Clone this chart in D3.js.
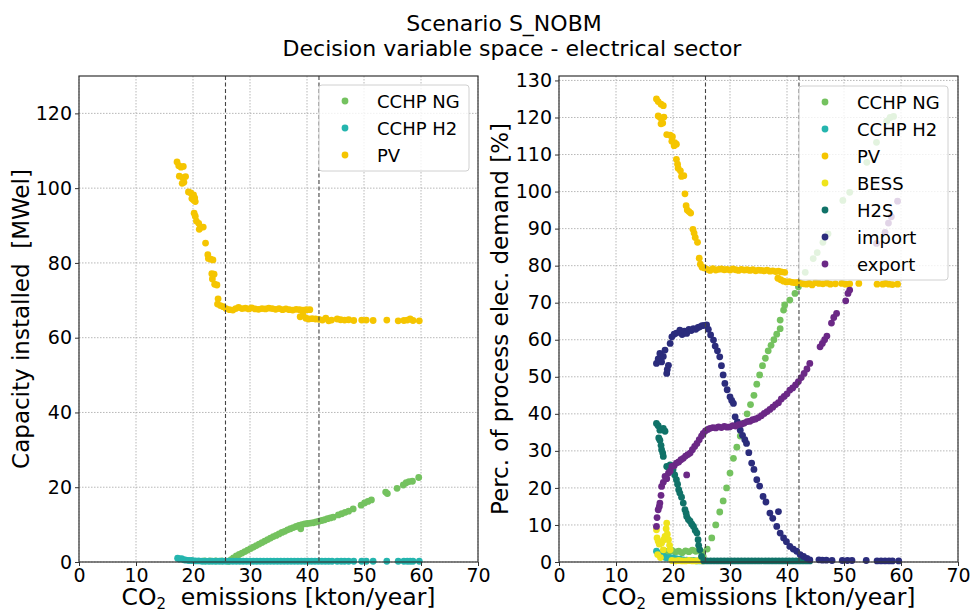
<!DOCTYPE html>
<html>
<head>
<meta charset="utf-8">
<script src="https://cdn.jsdelivr.net/npm/d3@7"></script>
<style>
  body { margin: 0; background: #fff; }
  text { font-family: "DejaVu Sans", sans-serif; fill: #000; }
</style>
</head>
<body>
<svg id="chart" width="971" height="611"></svg>
<script>
// x ticks + the two dashed reference lines (kton/year)
let xTicks = [0, 10, 20, 30, 40, 50, 60, 70];
let vLines = [25.7, 42.1];
let leftYTicks = [0, 20, 40, 60, 80, 100, 120];
let rightYTicks = [0, 10, 20, 30, 40, 50, 60, 70, 80, 90, 100, 110, 120, 130];

// left panel: capacity installed [MWel]
let capNG = [[22.0,0.3],[23.0,0.3],[24.0,0.3],[25.0,0.3],[26.2,0.2],[26.7,0.6],[27.1,1.1],[27.6,1.6],[28.1,2.0],[28.6,2.4],[29.1,2.8],[29.6,3.2],[30.1,3.6],[30.6,4.0],[31.1,4.4],[31.6,4.8],[32.1,5.2],[32.6,5.6],[33.1,6.0],[33.6,6.4],[34.1,6.8],[34.6,7.1],[35.1,7.5],[35.6,7.9],[36.1,8.2],[36.6,8.6],[37.1,8.9],[37.6,9.2],[38.1,9.5],[38.6,9.8],[39.1,10.0],[39.6,10.2],[38.9,8.9],[40.1,10.3],[40.6,10.4],[41.1,10.5],[41.6,10.7],[42.1,10.9],[42.6,11.1],[43.1,11.3],[43.6,11.6],[44.1,11.8],[44.6,12.0],[45.5,12.6],[46.1,12.9],[46.7,13.3],[47.3,13.6],[48.1,14.2],[49.5,15.2],[50.1,15.8],[50.7,16.2],[51.3,16.6],[53.8,18.7],[54.1,18.3],[55.8,19.7],[56.9,20.6],[57.4,21.2],[57.9,21.5],[58.5,21.6],[59.6,22.6]];
let capH2 = [[17.3,1.0],[17.6,0.8],[18.0,0.9],[18.4,0.6],[18.8,0.5],[19.3,0.4],[19.8,0.4],[20.4,0.3],[21.0,0.3],[21.6,0.2],[22.2,0.2],[22.8,0.2],[23.4,0.2],[24.0,0.2],[24.6,0.2],[25.2,0.2],[25.8,0.2],[26.4,0.2],[27.0,0.2],[27.6,0.2],[28.2,0.2],[28.8,0.2],[29.4,0.2],[30.0,0.2],[30.6,0.2],[31.2,0.2],[31.8,0.2],[32.4,0.2],[33.0,0.2],[33.6,0.2],[34.2,0.2],[34.8,0.2],[35.4,0.2],[36.0,0.2],[36.6,0.2],[37.2,0.2],[37.8,0.2],[38.4,0.2],[39.0,0.2],[39.6,0.2],[40.2,0.2],[40.8,0.2],[41.4,0.2],[42.0,0.2],[42.6,0.2],[43.2,0.2],[43.8,0.2],[44.4,0.2],[45.3,0.2],[46.0,0.2],[46.6,0.2],[47.3,0.2],[48.2,0.2],[49.6,0.2],[50.4,0.2],[51.6,0.2],[54.0,0.2],[56.0,0.2],[57.0,0.2],[57.6,0.2],[58.1,0.2],[58.6,0.2],[59.7,0.2]];
let capPV = [[17.2,107],[17.5,106],[17.9,105.6],[18.3,105.8],[17.6,103.2],[18.2,102.8],[18.7,103.1],[18.1,101.3],[18.4,101.6],[19.2,99],[19.6,98.7],[20.1,98.2],[20.3,97.4],[19.8,97.2],[20.4,96.4],[20.1,96.8],[20.2,93.3],[20.4,92.5],[20.6,91.2],[21,90.6],[21.3,89.5],[21.1,89],[21.8,89.6],[22.2,85.3],[22.6,82.2],[22.7,81.2],[23.1,81],[23.5,80.8],[23.3,77.1],[23.7,77],[23.4,75.7],[23.8,74.3],[24.2,74.1],[24.4,70.4],[24.3,69],[24.8,68.6],[25.3,68.3],[25.8,67.8],[26.4,67.5],[27,67.4],[27.5,67.8],[28,68.1],[28.6,67.8],[29.2,67.9],[29.8,67.7],[30.3,68],[30.9,67.7],[31.5,67.6],[32.1,67.8],[32.7,67.7],[33.3,67.9],[33.9,67.8],[34.5,67.6],[35.1,67.8],[35.7,67.5],[36.3,67.7],[36.9,67.5],[37.5,67.4],[38.1,67.6],[38.7,67.5],[39.3,67.4],[39.9,67.5],[40.5,67.5],[38.8,65.6],[39.3,66],[39.8,65.2],[40.3,65],[40.9,65.1],[41.5,65],[42.1,64.9],[42.7,64.7],[43.3,65.2],[43.8,64.5],[44.3,64.7],[45.3,65],[45.9,64.8],[46.6,64.7],[47.3,64.8],[48.2,64.6],[49.6,64.7],[50.4,64.7],[51.6,64.6],[54,64.7],[56,64.5],[57,64.6],[57.6,64.7],[58.1,65],[58.6,64.6],[59.7,64.5]];

// right panel: percentage of process electricity demand [%]
let pctNG = [[18.6,2.9],[19.2,2.4],[19.8,3.1],[20.4,2.7],[21,2.9],[21.6,2.5],[22.2,3],[22.8,2.8],[23.4,3.2],[24,2.9],[24.6,3.1],[25.2,2.6],[25.3,1.5],[26,3.5],[26.8,6.5],[27.5,10],[28.2,13.5],[28.8,16.5],[29.4,20],[30,24],[30.6,28],[31.2,31],[31.8,34],[32.4,37.5],[33,40],[33.6,42.5],[34.2,45],[34.7,48],[35.2,50.5],[35.7,53],[36.2,55],[36.7,57],[37.2,58.5],[37.7,60],[38.2,61.5],[38.8,63],[38.8,65.3],[39.4,68],[39.6,69.4],[40.5,70.7],[41.4,72.5],[42,74.3],[43.2,78.2],[44.6,81.9],[45.3,83.5],[46.3,86.3],[47.2,88.6],[49.8,97.6],[51,99.8],[54,107.9],[55.7,113.3],[57.5,119],[58.1,120],[58.7,120.3]];
let pctH2 = [[17.1,2.9],[17.4,2.4],[17.7,2],[18,1.8],[18.3,1.5],[18.6,1.3],[18.9,1.1],[19.4,1.2],[20,1.1],[20.6,0.9],[21.2,0.8],[21.8,0.6],[22.4,0.5],[23,0.4],[23.6,0.4],[24.2,0.3],[24.8,0.3]];
let pctPV = [[17.1,125],[17.4,124.3],[17.9,123.6],[18.3,123.2],[17.4,120.4],[17.8,119.9],[18.4,120.1],[17.9,118.3],[18.2,118.5],[18.9,115.4],[19.5,115.2],[19.9,114.8],[19.8,113.6],[20.3,113.2],[20.2,112.4],[20.6,112.8],[20.6,108.7],[20.8,107.4],[20.9,106.3],[21.3,105.6],[21.5,104.1],[21.9,104.3],[22.1,99.4],[22.3,96.2],[22.5,95],[22.8,94.6],[23.1,94.2],[23.5,89.8],[23.7,88.8],[23.9,87.6],[24.3,86.3],[24.6,82],[24.8,80.4],[25.1,79.6],[25.5,79.4],[26,79],[26.5,78.7],[27,79.2],[27.5,78.8],[28,79],[28.5,79.1],[29,78.9],[29.5,79],[30,78.8],[30.5,79.1],[31,78.9],[31.5,78.7],[32,79],[32.5,78.8],[33,78.9],[33.5,78.7],[34,78.9],[34.5,78.6],[35,78.8],[35.5,78.7],[36,78.6],[36.5,78.8],[37,78.5],[37.5,78.6],[38,78.4],[38.5,78.5],[39,78.3],[39.6,78.2],[38.4,76.6],[38.9,76.2],[39.4,75.8],[39.9,75.6],[40.4,75.7],[40.9,75.5],[41.4,75.4],[41.9,75.5],[42.4,75.3],[42.9,75.1],[43.4,75],[43.9,75.2],[44.4,74.8],[45,75.4],[45.6,75.2],[46.3,75.1],[47,75.3],[47.6,75],[48.5,75.1],[49.6,75.2],[50.3,75],[51,75.1],[52.6,75.2],[55.8,75],[56.8,75],[57.3,75.2],[57.9,75],[58.5,74.9],[59.4,75]];
let pctBESS = [[17.1,8.7],[17.2,6.5],[17.4,5.6],[17.6,4.8],[18,5.1],[18.3,3.3],[18.4,6],[18.6,6.9],[18.8,9],[18.9,10.5],[19,7.5],[19.2,6],[19.4,4.5],[19.5,3.3],[17.3,2],[17.8,1.2],[19.8,0.4],[20.4,0.3],[21,0.4],[21.6,0.3],[22.2,0.3],[22.8,0.4],[23.4,0.3],[24,0.3],[24.6,0.4],[25.2,0.3]];
let pctH2S = [[17.1,37.4],[17.4,36.8],[17.7,35.6],[18.3,36.1],[18.6,35.3],[17.5,33.5],[17.7,32.9],[17.9,31.5],[18,30.3],[18.2,29.4],[18.3,28.5],[18.9,25.8],[19.2,25.5],[19.5,26.2],[19.8,25.6],[20,24.9],[20.3,23.5],[20.6,22.2],[20.8,21],[21,19.5],[21.2,18.6],[21.5,17.5],[21.8,15.9],[22.1,14.1],[22.3,13.2],[22.4,12.3],[22.7,11.5],[23,11],[23.3,10.2],[23.6,9.6],[23.9,8.5],[24.2,7.8],[24.4,6],[24.5,4.5],[24.7,3.3],[25,1.5],[25.4,0.3],[26,0.3],[26.6,0.3],[27.2,0.3],[27.8,0.3],[28.4,0.3],[29,0.3],[29.6,0.3],[30.2,0.3],[30.8,0.3],[31.4,0.3],[32,0.3],[32.6,0.3],[33.2,0.3],[33.8,0.3],[34.4,0.3],[35,0.3],[35.6,0.3],[36.2,0.3],[36.8,0.3],[37.4,0.3],[38,0.3],[38.6,0.3],[39.2,0.3],[39.8,0.3],[40.4,0.3],[41,0.3],[41.6,0.3],[42.2,0.3],[42.8,0.3],[43.4,0.3],[44,0.3]];
let pctImport = [[17.1,53.6],[17.4,54.8],[17.7,56.3],[18,54],[18.3,55.5],[18.6,57.2],[18.9,50.9],[19,52],[19.2,53.1],[19.5,59],[19.8,60.8],[20.2,61.5],[20.6,61.8],[21.2,62.6],[21.6,61.4],[22,62.3],[22.4,61.7],[22.8,62.8],[23.2,62.5],[23.6,63],[24,62.8],[24.4,63.3],[24.7,63.5],[25.1,63.8],[25.5,63.9],[25.9,64],[26.2,62.8],[26.6,61.3],[27.1,59.9],[27.4,58.3],[27.8,57],[28.2,55.4],[28.5,53],[28.8,50.5],[29.1,48.2],[29.5,46.5],[30,44.6],[30.3,43.6],[30.6,42.8],[30.9,39.2],[31.3,37.8],[31.8,35.6],[32.2,34.2],[32.6,33],[32.9,32],[33.3,29.5],[33.8,26.7],[34.2,25],[34.7,22.2],[35.2,20.5],[35.8,17.7],[36.3,16.2],[37,13.2],[37.5,11.8],[38.2,9.6],[38.5,13.6],[38.8,7.8],[39.4,6.5],[39.9,5.5],[40.5,4.2],[41.1,3.5],[41.7,2.9],[42.3,2],[42.9,1.5],[43.5,1],[44,0.6],[45.6,0.6],[46.2,0.5],[46.9,0.5],[47.9,0.4],[49.7,0.4],[50.6,0.4],[51.4,0.4],[53.9,0.4],[55.8,0.3],[56.5,0.3],[57.2,0.3],[57.9,0.3],[58.5,0.3],[59.6,0.3]];
let pctExport = [[17.1,9.6],[17.2,12],[17.4,14.1],[17.6,15],[17.7,15.9],[17.9,18],[18,20.4],[18.3,21.5],[18.6,23.1],[18.9,22.5],[19.2,24],[19.5,24.5],[19.8,25.8],[20.2,26],[20.6,26.7],[21,27],[21.4,27.6],[21.8,28],[22.2,28.6],[22.4,23.5],[22.6,29],[23,29.4],[23.4,30.3],[23.8,31.2],[24.2,32],[24.6,33],[25,34],[25.3,34.7],[25.7,35.4],[26.1,35.8],[26.5,36.1],[27,36.3],[27.5,36.2],[28,36.5],[28.5,36.3],[29,36.6],[29.5,36.4],[30,36.5],[30.5,36.8],[31,36.7],[31.5,37.1],[32,37.2],[32.5,37.5],[33,37.9],[33.5,38],[34,38.4],[34.5,38.6],[35,39],[35.5,39.5],[36,40.1],[36.5,40.6],[37,41.2],[37.5,41.8],[38,42.5],[38.5,43],[39,44],[39.5,44.7],[40,45.4],[40.5,46.4],[41,47],[41.5,47.8],[42,48.7],[42.5,49.8],[43,50.9],[43.5,52.1],[44,53.6],[45.8,58.1],[46.2,59],[46.6,60],[47,61],[47.8,64.5],[48.2,66],[48.7,67.1],[50.3,70.5],[50.7,72.5],[51,73.4],[55.7,86],[57.2,89],[57.8,91.5],[58.3,93.2],[59.4,97.4]];

let colors = {
  "CCHP NG": "#74c25f", "CCHP H2": "#25b5ae", "PV": "#f5c500", "BESS": "#efe41c",
  "H2S": "#107268", "import": "#2b2c7c", "export": "#6b2886"
};

let svg = d3.select("#chart");

function drawPanel(p) {
  let x = d3.scaleLinear().domain([0, 70]).range([p.x0, p.x1]);
  let y = d3.scaleLinear().domain([0, p.ymax]).range([p.y1, p.y0]);
  let g = svg.append("g");

  // grid
  g.append("g").selectAll("line").data(xTicks).join("line")
    .attr("x1", d => x(d)).attr("x2", d => x(d)).attr("y1", p.y0).attr("y2", p.y1)
    .attr("stroke", "#b0b0b0").attr("stroke-width", 0.9).attr("stroke-dasharray", "1.5,1.5");
  g.append("g").selectAll("line").data(p.yTicks).join("line")
    .attr("x1", p.x0).attr("x2", p.x1).attr("y1", d => y(d)).attr("y2", d => y(d))
    .attr("stroke", "#b0b0b0").attr("stroke-width", 0.9).attr("stroke-dasharray", "1.5,1.5");

  // points, in legend order so later series sit on top
  p.series.forEach(s => {
    g.append("g").selectAll("circle").data(s.pts).join("circle")
      .attr("cx", d => x(d[0])).attr("cy", d => y(d[1])).attr("r", 3.4)
      .attr("fill", colors[s.name]);
  });

  // dashed reference lines
  g.append("g").selectAll("line").data(vLines).join("line")
    .attr("x1", d => x(d)).attr("x2", d => x(d)).attr("y1", p.y0).attr("y2", p.y1)
    .attr("stroke", "#444").attr("stroke-width", 1.1).attr("stroke-dasharray", "4,2.5");

  // axes
  let ax = g.append("g").attr("transform", `translate(0,${p.y1})`)
    .call(d3.axisBottom(x).tickValues(xTicks).tickFormat(d3.format("d")).tickSize(4).tickPadding(3));
  let ay = g.append("g").attr("transform", `translate(${p.x0},0)`)
    .call(d3.axisLeft(y).tickValues(p.yTicks).tickFormat(d3.format("d")).tickSize(4).tickPadding(3));
  [ax, ay].forEach(a => {
    a.select(".domain").remove();
    a.selectAll("text").attr("font-size", 19).attr("font-family", "DejaVu Sans").attr("fill", "#000");
    a.selectAll("line").attr("stroke", "#333");
  });

  // frame
  g.append("rect").attr("x", p.x0).attr("y", p.y0)
    .attr("width", p.x1 - p.x0).attr("height", p.y1 - p.y0)
    .attr("fill", "none").attr("stroke", "#333").attr("stroke-width", 1.2);

  // legend
  let lg = g.append("g");
  lg.append("rect").attr("x", p.leg[0]).attr("y", p.leg[1])
    .attr("width", p.leg[2]).attr("height", p.leg[3]).attr("rx", 3)
    .attr("fill", "#fff").attr("fill-opacity", 0.8).attr("stroke", "#d0d0d0");
  p.series.forEach((s, i) => {
    let cy = p.leg[1] + 16 + i * 27;
    lg.append("circle").attr("cx", p.leg[0] + 26).attr("cy", cy).attr("r", 3.4).attr("fill", colors[s.name]);
    lg.append("text").attr("x", p.leg[0] + 58).attr("y", cy + 6.5)
      .attr("font-size", 18).text(s.name);
  });

  // labels
  svg.append("text").attr("transform", `translate(${p.ylabX},${(p.y0 + p.y1) / 2}) rotate(-90)`)
    .attr("text-anchor", "middle").attr("font-size", 23).style("white-space", "pre").text(p.ylabel);
  let xl = svg.append("text").attr("x", (p.x0 + p.x1) / 2).attr("y", 605)
    .attr("text-anchor", "middle").attr("font-size", 23.5).style("white-space", "pre");
  xl.append("tspan").text("CO");
  xl.append("tspan").attr("font-size", 15).attr("dy", 4).text("2");
  xl.append("tspan").attr("dy", -4).text("  emissions [kton/year]");
}

drawPanel({
  x0: 79, x1: 478, y0: 76, y1: 562, ymax: 130, yTicks: leftYTicks,
  series: [{name: "CCHP NG", pts: capNG}, {name: "CCHP H2", pts: capH2}, {name: "PV", pts: capPV}],
  leg: [319, 85, 150, 86], ylabX: 29, ylabel: "Capacity installed  [MWel]"
});
drawPanel({
  x0: 559, x1: 958, y0: 76, y1: 562, ymax: 131.2, yTicks: rightYTicks,
  series: [{name: "CCHP NG", pts: pctNG}, {name: "CCHP H2", pts: pctH2}, {name: "PV", pts: pctPV},
           {name: "BESS", pts: pctBESS}, {name: "H2S", pts: pctH2S}, {name: "import", pts: pctImport},
           {name: "export", pts: pctExport}],
  leg: [799, 86, 149, 194], ylabX: 508, ylabel: "Perc. of process elec. demand [%]"
});

// title
svg.append("text").attr("x", 504).attr("y", 31).attr("text-anchor", "middle")
  .attr("font-size", 22).text("Scenario S_NOBM");
svg.append("text").attr("x", 512).attr("y", 56).attr("text-anchor", "middle")
  .attr("font-size", 22).text("Decision variable space - electrical sector");
</script>
</body>
</html>
